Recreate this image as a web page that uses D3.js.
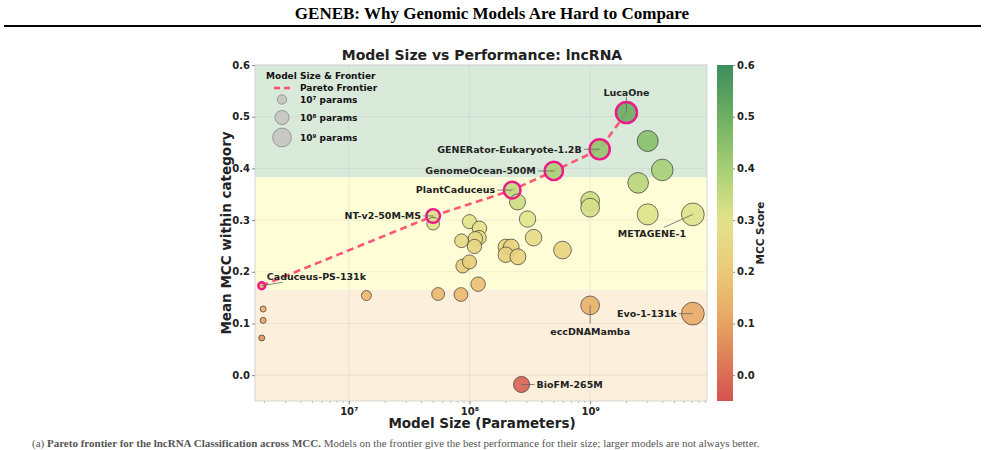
<!DOCTYPE html>
<html>
<head>
<meta charset="utf-8">
<script src="https://cdn.jsdelivr.net/npm/d3@7"></script>
<style>
  html, body { margin: 0; padding: 0; background: #fff; }
  svg { display: block; }
</style>
</head>
<body>
<svg id="chart" width="985" height="450"></svg>
<script>
// ---------------- DATA ----------------
const modelNames = [
  "Caduceus-PS-131k", "", "", "", "", "", "", "",
  "NT-v2-50M-MS", "", "", "", "", "", "", "", "", "",
  "PlantCaduceus", "", "", "", "", "", "", "", "",
  "GenomeOcean-500M", "GENERator-Eukaryote-1.2B", "LucaOne",
  "", "", "", "", "", "", "METAGENE-1",
  "eccDNAMamba", "Evo-1-131k", "BioFM-265M"
];
const modelParams = [
  1.9e6, 1.95e6, 1.95e6, 1.9e6, 1.4e7, 5.5e7, 8.5e7, 1.18e8,
  5.0e7, 5.0e7, 1.0e8, 1.21e8, 1.2e8, 1.12e8, 8.6e7, 1.1e8, 8.8e7, 1.0e8,
  2.26e8, 2.5e8, 3.03e8, 3.4e8, 2.0e8, 2.22e8, 2.0e8, 2.52e8, 5.9e8,
  5.0e8, 1.2e9, 2.0e9,
  3.0e9, 3.96e9, 2.5e9, 1.0e9, 1.0e9, 3.0e9, 7.1e9,
  1.0e9, 7.1e9, 2.7e8
];
const modelMCC = [
  0.173, 0.128, 0.106, 0.072, 0.154, 0.157, 0.156, 0.176,
  0.308, 0.293, 0.297, 0.284, 0.266, 0.264, 0.260, 0.249, 0.211, 0.219,
  0.358, 0.335, 0.302, 0.266, 0.248, 0.248, 0.233, 0.229, 0.242,
  0.395, 0.437, 0.508,
  0.453, 0.397, 0.372, 0.337, 0.324, 0.311, 0.311,
  0.135, 0.119, -0.018
];
const frontierNames = ["Caduceus-PS-131k", "NT-v2-50M-MS", "PlantCaduceus",
  "GenomeOcean-500M", "GENERator-Eukaryote-1.2B", "LucaOne"];
const bandEdges = [-0.05, 0.166, 0.383, 0.6];
const yTicks = [0.0, 0.1, 0.2, 0.3, 0.4, 0.5, 0.6];
const xTicks = [1e7, 1e8, 1e9];
const xTickLabels = ["10\u2077", "10\u2078", "10\u2079"];
const legendSizes = [1e7, 1e8, 1e9];
const legendLabels = ["10\u2077 params", "10\u2078 params", "10\u2079 params"];
const cbarTicks = [0.0, 0.1, 0.2, 0.3, 0.4, 0.5, 0.6];

// ---------------- LAYOUT ----------------
const svg = d3.select("#chart");
const L = 255, R = 707, T = 65, B = 401;
const FONT = "'DejaVu Sans', Verdana, sans-serif";

const x = d3.scaleLog().domain([1.67e6, 9.3e9]).range([L, R]);
const y = d3.scaleLinear().domain([-0.05, 0.6]).range([B, T]);
const r = d3.scaleLinear().domain([5, 10]).range([0, 11.75]); // radius from log10(params)
const radius = p => r(Math.log10(p));
const color = d3.scaleLinear()
  .domain([-0.05, 0.1, 0.2, 0.3, 0.4, 0.5, 0.6])
  .range(["#d4524f", "#e8a362", "#ecc877", "#e2e48c", "#a7cf74", "#6db062", "#3c8c5c"])
  .interpolate(d3.interpolateRgb);

// ---------------- HEADER ----------------
svg.append("text").attr("x", 492).attr("y", 19).attr("text-anchor", "middle")
  .attr("font-family", "'Liberation Serif', 'Times New Roman', serif")
  .attr("font-weight", "bold").attr("font-size", 17).attr("fill", "#000")
  .text("GENEB: Why Genomic Models Are Hard to Compare");
svg.append("line").attr("x1", 4).attr("x2", 981).attr("y1", 26).attr("y2", 26)
  .attr("stroke", "#000").attr("stroke-width", 2);

// ---------------- BANDS ----------------
const bandColors = ["#fcefdb", "#fefdd6", "#d9eadb"];
bandColors.forEach((c, i) => {
  svg.append("rect").attr("x", L).attr("width", R - L)
    .attr("y", y(bandEdges[i + 1])).attr("height", y(bandEdges[i]) - y(bandEdges[i + 1]))
    .attr("fill", c);
});

// grid
const grid = svg.append("g");
yTicks.forEach(t => grid.append("line").attr("x1", L).attr("x2", R)
  .attr("y1", y(t)).attr("y2", y(t)).attr("stroke", "#b0b0b0").attr("stroke-opacity", 0.25).attr("stroke-width", 0.8));
xTicks.forEach(t => grid.append("line").attr("y1", T).attr("y2", B)
  .attr("x1", x(t)).attr("x2", x(t)).attr("stroke", "#b0b0b0").attr("stroke-opacity", 0.25).attr("stroke-width", 0.8));

// frame
svg.append("rect").attr("x", L).attr("y", T).attr("width", R - L).attr("height", B - T)
  .attr("fill", "none").attr("stroke", "#cccccc").attr("stroke-width", 0.8);

// ---------------- AXES ----------------
const xAxis = d3.axisBottom(x).tickValues(xTicks).tickFormat((d, i) => xTickLabels[i]).tickSize(3.5).tickPadding(3);
const gx = svg.append("g").attr("transform", `translate(0,${B})`).call(xAxis);
gx.select(".domain").remove();
gx.selectAll(".tick line").attr("stroke", "#888");
gx.selectAll(".tick text").attr("font-family", FONT).attr("font-weight", "bold")
  .attr("font-size", 10).attr("fill", "#222");
// minor ticks
const minor = [];
for (let e = 6; e <= 9; e++) for (let m = 2; m <= 9; m++) {
  const v = m * Math.pow(10, e);
  if (v >= x.domain()[0] && v <= x.domain()[1]) minor.push(v);
}
svg.append("g").selectAll("line").data(minor).join("line")
  .attr("x1", d => x(d)).attr("x2", d => x(d)).attr("y1", B).attr("y2", B + 2)
  .attr("stroke", "#999").attr("stroke-width", 0.6);

const yAxis = d3.axisLeft(y).tickValues(yTicks).tickFormat(d3.format(".1f")).tickSize(3).tickPadding(2);
const gy = svg.append("g").attr("transform", `translate(${L},0)`).call(yAxis);
gy.select(".domain").remove();
gy.selectAll(".tick line").attr("stroke", "#888");
gy.selectAll(".tick text").attr("font-family", FONT).attr("font-weight", "bold")
  .attr("font-size", 10).attr("fill", "#222");

// titles
svg.append("text").attr("x", 482).attr("y", 60).attr("text-anchor", "middle")
  .attr("font-family", FONT).attr("font-weight", "bold").attr("font-size", 14).attr("fill", "#222")
  .text("Model Size vs Performance: lncRNA");
svg.append("text").attr("x", 482).attr("y", 428).attr("text-anchor", "middle")
  .attr("font-family", FONT).attr("font-weight", "bold").attr("font-size", 13.5).attr("fill", "#222")
  .text("Model Size (Parameters)");
svg.append("text").attr("transform", "translate(231,233) rotate(-90)").attr("text-anchor", "middle")
  .attr("font-family", FONT).attr("font-weight", "bold").attr("font-size", 13.5).attr("fill", "#222")
  .text("Mean MCC within category");

// ---------------- DATA MARKS ----------------
const pts = modelParams.map((p, i) => ({ p, v: modelMCC[i], name: modelNames[i],
  front: frontierNames.includes(modelNames[i]) }));

// Pareto line
const frontPts = frontierNames.map(n => pts.find(d => d.name === n));
svg.append("path").datum(frontPts)
  .attr("d", d3.line().x(d => x(d.p)).y(d => y(d.v)))
  .attr("fill", "none").attr("stroke", "#ff4d73").attr("stroke-width", 2.6)
  .attr("stroke-dasharray", "7,4.5").attr("opacity", 0.95);

// points
svg.append("g").selectAll("circle").data(pts).join("circle")
  .attr("cx", d => x(d.p)).attr("cy", d => y(d.v)).attr("r", d => radius(d.p))
  .attr("fill", d => color(d.v)).attr("fill-opacity", 0.9)
  .attr("stroke", "#333").attr("stroke-width", 0.8).attr("stroke-opacity", 0.85);

// frontier rings
svg.append("g").selectAll("circle").data(frontPts).join("circle")
  .attr("cx", d => x(d.p)).attr("cy", d => y(d.v)).attr("r", d => radius(d.p) + 0.5)
  .attr("fill", "none").attr("stroke", "#ee1a8c").attr("stroke-width", 2.4);

// labels (placement in code)
const labelPlace = {
  "LucaOne": { dx: 0, dy: -20, anchor: "middle", lx: 0, ly: -16 },
  "GENERator-Eukaryote-1.2B": { dx: -18, dy: 0, anchor: "end", lx: -16, ly: 0 },
  "GenomeOcean-500M": { dx: -18, dy: 0, anchor: "end", lx: -16, ly: 0 },
  "PlantCaduceus": { dx: -17, dy: 0, anchor: "end", lx: -15, ly: 0 },
  "NT-v2-50M-MS": { dx: -12, dy: 0, anchor: "end", lx: -10, ly: 0 },
  "Caduceus-PS-131k": { dx: 5, dy: -9, anchor: "start", lx: 21, ly: -3.5 },
  "METAGENE-1": { dx: -41, dy: 19, anchor: "middle", lx: -29, ly: 13 },
  "Evo-1-131k": { dx: -16, dy: 0, anchor: "end", lx: -14, ly: 0 },
  "eccDNAMamba": { dx: 0, dy: 26, anchor: "middle", lx: 0, ly: 18 },
  "BioFM-265M": { dx: 15, dy: 0, anchor: "start", lx: 13, ly: 0 }
};
const labG = svg.append("g");
pts.filter(d => d.name && labelPlace[d.name]).forEach(d => {
  const pl = labelPlace[d.name];
  const cx = x(d.p), cy = y(d.v);
  labG.append("line").attr("x1", cx).attr("y1", cy).attr("x2", cx + pl.lx).attr("y2", cy + pl.ly)
    .attr("stroke", "#666").attr("stroke-width", 0.8);
  labG.append("text").attr("x", cx + pl.dx).attr("y", cy + pl.dy).attr("dy", "0.35em")
    .attr("text-anchor", pl.anchor).attr("font-family", FONT).attr("font-weight", "bold")
    .attr("font-size", 9.5).attr("fill", "#222").text(d.name);
});

// ---------------- LEGEND ----------------
const lg = svg.append("g");
lg.append("text").attr("x", 266).attr("y", 76).attr("dy", "0.35em")
  .attr("font-family", FONT).attr("font-weight", "bold").attr("font-size", 9).attr("fill", "#111")
  .text("Model Size & Frontier");
lg.append("line").attr("x1", 274).attr("x2", 290).attr("y1", 88).attr("y2", 88)
  .attr("stroke", "#ff4d73").attr("stroke-width", 2.4).attr("stroke-dasharray", "6,4");
lg.append("text").attr("x", 300).attr("y", 88).attr("dy", "0.35em")
  .attr("font-family", FONT).attr("font-weight", "bold").attr("font-size", 9).attr("fill", "#111")
  .text("Pareto Frontier");
const legY = [99.5, 117.5, 137.5];
legendSizes.forEach((s, i) => {
  lg.append("circle").attr("cx", 282).attr("cy", legY[i]).attr("r", radius(s))
    .attr("fill", "#c8c8c4").attr("stroke", "#888").attr("stroke-width", 0.8);
  lg.append("text").attr("x", 300).attr("y", legY[i]).attr("dy", "0.35em")
    .attr("font-family", FONT).attr("font-weight", "bold").attr("font-size", 9).attr("fill", "#111")
    .text(legendLabels[i]);
});

// ---------------- COLORBAR ----------------
const cbL = 717, cbW = 16;
const defs = svg.append("defs");
const grad = defs.append("linearGradient").attr("id", "cbar").attr("x1", 0).attr("x2", 0).attr("y1", 1).attr("y2", 0);
d3.range(0, 1.0001, 0.05).forEach(t => {
  const v = -0.05 + t * 0.65;
  grad.append("stop").attr("offset", t).attr("stop-color", color(v));
});
svg.append("rect").attr("x", cbL).attr("y", T).attr("width", cbW).attr("height", B - T)
  .attr("fill", "url(#cbar)");
const cAxis = d3.axisRight(y).tickValues(cbarTicks).tickFormat(d3.format(".1f")).tickSize(2).tickPadding(2);
const gc = svg.append("g").attr("transform", `translate(${cbL + cbW},0)`).call(cAxis);
gc.select(".domain").remove();
gc.selectAll(".tick line").attr("stroke", "#888");
gc.selectAll(".tick text").attr("font-family", FONT).attr("font-weight", "bold")
  .attr("font-size", 10).attr("fill", "#222");
svg.append("text").attr("transform", "translate(764,233) rotate(-90)").attr("text-anchor", "middle")
  .attr("font-family", FONT).attr("font-weight", "bold").attr("font-size", 10.5).attr("fill", "#222")
  .text("MCC Score");

// ---------------- CAPTION ----------------
svg.append("text").attr("x", 32).attr("y", 447)
  .attr("font-family", "'Liberation Serif', 'Times New Roman', serif")
  .attr("font-size", 11).attr("fill", "#555")
  .html("(a) <tspan font-weight='bold'>Pareto frontier for the lncRNA Classification across MCC.</tspan> Models on the frontier give the best performance for their size; larger models are not always better.");
</script>
</body>
</html>
